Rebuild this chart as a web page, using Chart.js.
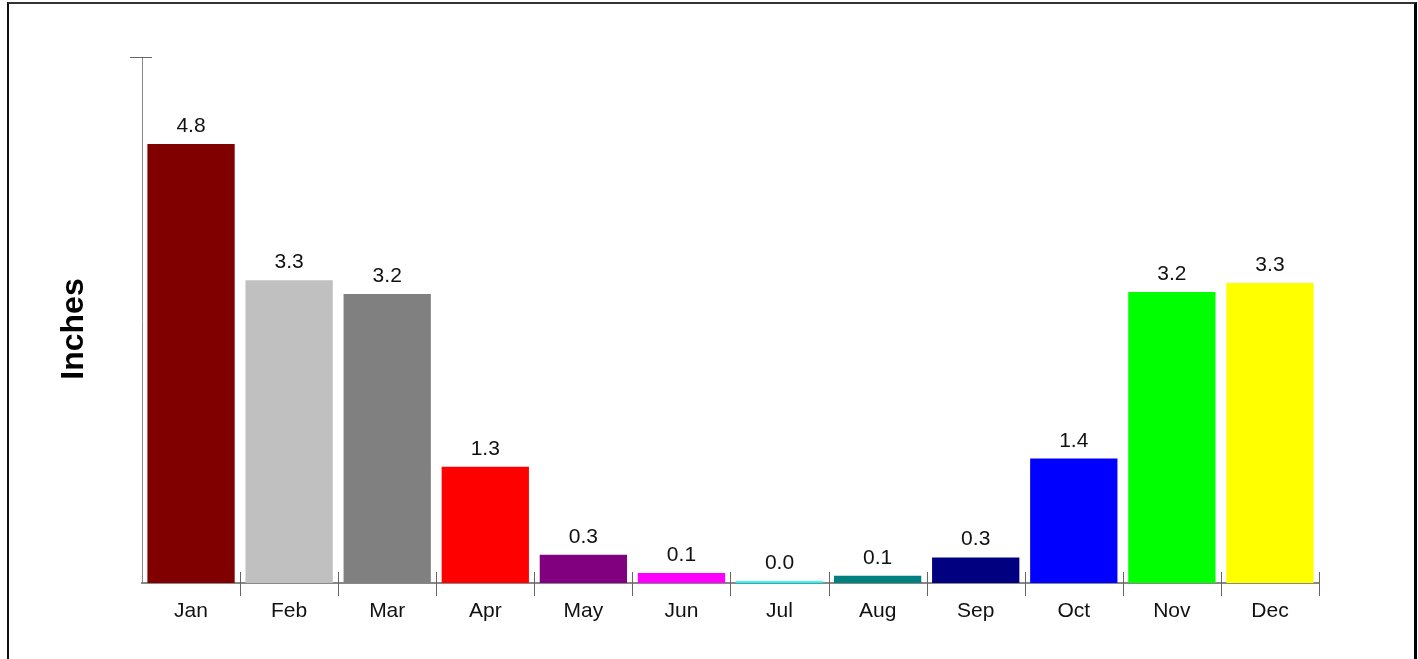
<!DOCTYPE html>
<html>
<head>
<meta charset="utf-8">
<script src="https://cdn.jsdelivr.net/npm/chart.js@4/dist/chart.umd.min.js"></script>
<style>
  html, body { margin: 0; padding: 0; background: #fff; }
  #wrap { position: absolute; left: 0; top: 0; width: 1418px; height: 659px; }
  #frame { position: absolute; left: 7px; top: 2px; width: 1405px; height: 700px;
           border-left: 2px solid #111; border-top: 2px solid #333; border-right: 3px solid #000;
           pointer-events: none; }
</style>
</head>
<body>
<div id="wrap"><canvas id="rainChart" width="1418" height="659"></canvas></div>
<div id="frame"></div>
<script>
// valeurs (pouces)
const mois = ["Jan", "Feb", "Mar", "Apr", "May", "Jun", "Jul", "Aug", "Sep", "Oct", "Nov", "Dec"];
const pluie = [4.80, 3.31, 3.16, 1.27, 0.31, 0.11, 0.02, 0.08, 0.28, 1.36, 3.18, 3.28];
const couleurs = ["#800000", "#c0c0c0", "#808080", "#ff0000", "#800080", "#ff00ff",
                  "#00ffff", "#008080", "#000080", "#0000ff", "#00ff00", "#ffff00"];
const yMax = 5.75;

// étiquettes, petits traits et titre de l'axe
const decorPlugin = {
  id: "decor",
  afterDatasetsDraw(chart) {
    const ctx = chart.ctx;
    const x = chart.scales.x, y = chart.scales.y;
    const meta = chart.getDatasetMeta(0);
    ctx.save();

    // valeurs au-dessus des barres
    ctx.fillStyle = "#111";
    ctx.font = "21px 'Liberation Sans', Arial, sans-serif";
    ctx.textAlign = "center";
    ctx.textBaseline = "alphabetic";
    meta.data.forEach((bar, i) => {
      ctx.fillText(pluie[i].toFixed(1), bar.x, bar.y - 12);
    });

    // traits entre catégories
    ctx.strokeStyle = "#666";
    ctx.lineWidth = 1;
    const step = x.getPixelForValue(1) - x.getPixelForValue(0);
    for (let i = 0; i < mois.length; i++) {
      const px = Math.round(x.getPixelForValue(i) + step / 2) + 0.5;
      ctx.beginPath();
      ctx.moveTo(px, y.bottom - 11);
      ctx.lineTo(px, y.bottom + 13);
      ctx.stroke();
    }

    // petit trait en haut de l'axe Y
    const top = Math.round(y.getPixelForValue(yMax)) + 0.5;
    ctx.beginPath();
    ctx.moveTo(x.left - 12, top);
    ctx.lineTo(x.left + 10, top);
    ctx.stroke();

    // titre de l'axe Y
    ctx.fillStyle = "#000";
    ctx.font = "bold 32px 'Liberation Sans', Arial, sans-serif";
    ctx.translate(74, (y.top + y.bottom) / 2 + 9);
    ctx.rotate(-Math.PI / 2);
    ctx.textBaseline = "middle";
    ctx.fillText("Inches", 0, 0);
    ctx.restore();
  }
};

new Chart(document.getElementById("rainChart"), {
  type: "bar",
  data: {
    labels: mois,
    datasets: [{
      data: pluie,
      backgroundColor: couleurs,
      barPercentage: 0.89,
      categoryPercentage: 1.0
    }]
  },
  options: {
    responsive: false,
    animation: false,
    layout: { padding: { left: 142, right: 99, top: 57, bottom: 0 } },
    plugins: { legend: { display: false }, tooltip: { enabled: false } },
    scales: {
      x: {
        grid: { display: false, drawTicks: false },
        border: { display: true, color: "#888", width: 2 },
        ticks: {
          color: "#111",
          font: { family: "'Liberation Sans', Arial, sans-serif", size: 21 },
          padding: 16,
          maxRotation: 0
        },
        afterFit: s => { s.height = 76; }
      },
      y: {
        min: 0,
        max: yMax,
        grid: { display: false, drawTicks: false },
        border: { display: true, color: "#888", width: 1 },
        ticks: { display: false },
        afterFit: s => { s.width = 0; }
      }
    }
  },
  plugins: [decorPlugin]
});
</script>
</body>
</html>
